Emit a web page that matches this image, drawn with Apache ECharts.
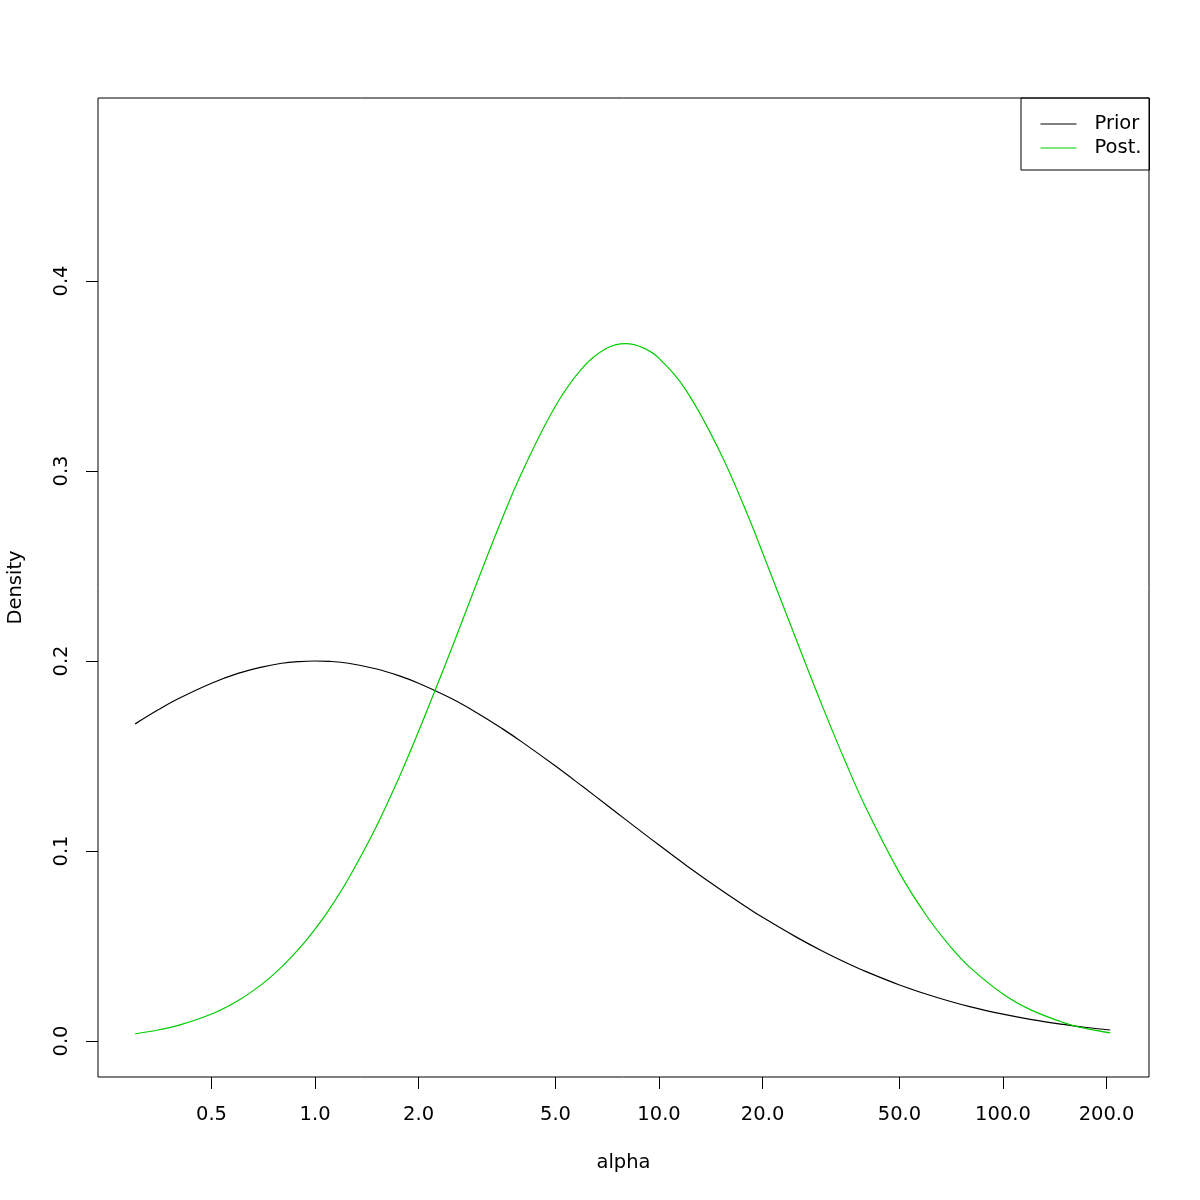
<!DOCTYPE html>
<html>
<head>
<meta charset="utf-8">
<script src="https://cdn.jsdelivr.net/npm/echarts@6/dist/echarts.min.js"></script>
<style>
html,body{margin:0;padding:0;background:#fff;}
#chart{width:1200px;height:1200px;}
</style>
</head>
<body>
<div id="chart"></div>
<script>
// alpha values (x, log scale)
const alpha = [0.3, 0.35, 0.4, 0.5, 0.6, 0.7, 0.8, 0.9, 1.0, 1.1, 1.25, 1.5, 1.75, 2, 2.5, 3, 3.5, 4, 5, 6, 7, 8, 9, 10, 12, 15, 18, 20, 25, 30, 35, 40, 50, 60, 70, 80, 100, 120, 150, 175, 205];
// prior density
const prior = [0.1669, 0.1743, 0.1801, 0.1883, 0.1936, 0.1968, 0.1988, 0.1997, 0.2000, 0.1998, 0.1988, 0.1959, 0.1923, 0.1883, 0.1801, 0.1720, 0.1644, 0.1573, 0.1447, 0.1339, 0.1246, 0.1165, 0.1094, 0.1031, 0.0924, 0.0800, 0.0704, 0.0651, 0.0548, 0.0471, 0.0412, 0.0365, 0.0295, 0.0246, 0.0209, 0.0181, 0.0141, 0.0114, 0.0087, 0.0071, 0.0058];
// posterior density
const post = [0.0038, 0.0058, 0.0082, 0.0142, 0.0215, 0.0298, 0.0390, 0.0487, 0.0589, 0.0693, 0.0854, 0.1121, 0.1382, 0.1630, 0.2070, 0.2443, 0.2750, 0.2995, 0.3342, 0.3544, 0.3643, 0.3670, 0.3648, 0.3593, 0.3423, 0.3104, 0.2779, 0.2570, 0.2117, 0.1752, 0.1460, 0.1225, 0.0885, 0.0658, 0.0501, 0.0389, 0.0247, 0.0165, 0.0097, 0.0065, 0.0043];
const xTicks = [0.5, 1, 2, 5, 10, 20, 50, 100, 200];
const yTicks = [0, 0.1, 0.2, 0.3, 0.4];
const seriesNames = ['Prior', 'Post.'];
const seriesColors = ['#000000', '#00CD00'];

const FONT = 'DejaVu Sans';
const FS = 19.5;
const chart = echarts.init(document.getElementById('chart'), null, {renderer: 'canvas'});
chart.setOption({
  animation: false,
  backgroundColor: '#ffffff',
  textStyle: {fontFamily: FONT, fontSize: FS, color: '#000'},
  grid: {left: 98, top: 98, right: 51, bottom: 123, show: true, borderColor: '#000', borderWidth: 1, backgroundColor: 'transparent', containLabel: false, outerBoundsMode: 'none'},
  legend: {
    left: 1021, top: 98,
    orient: 'vertical',
    data: seriesNames,
    borderColor: '#000', borderWidth: 1, borderRadius: 0,
    padding: [16, 8, 12, 19],
    itemWidth: 36, itemHeight: 20, itemGap: 4,
    itemStyle: {opacity: 0, borderWidth: 0},
    lineStyle: {width: 1},
    textStyle: {fontFamily: FONT, fontSize: FS, color: '#000', padding: [0, 0, 0, 13]},
    selectedMode: false
  },
  xAxis: {
    type: 'log', logBase: 10,
    min: 0.2339, max: 265.7,
    name: 'alpha', nameLocation: 'middle', nameGap: 76,
    nameTextStyle: {fontFamily: FONT, fontSize: FS, color: '#000'},
    axisLine: {show: false, onZero: false},
    splitLine: {show: false},
    minorTick: {show: false},
    axisTick: {show: true, inside: false, length: 12, customValues: xTicks, lineStyle: {color: '#000', width: 1}},
    axisLabel: {show: true, customValues: xTicks, margin: 28, color: '#000', fontFamily: FONT, fontSize: FS,
      formatter: v => Number(v).toFixed(1)}
  },
  yAxis: {
    type: 'value',
    min: -0.01895, max: 0.4963,
    name: 'Density', nameLocation: 'middle', nameGap: 72,
    nameTextStyle: {fontFamily: FONT, fontSize: FS, color: '#000'},
    axisLine: {show: false, onZero: false},
    splitLine: {show: false},
    axisTick: {show: true, inside: false, length: 12, customValues: yTicks, lineStyle: {color: '#000', width: 1}},
    axisLabel: {show: true, customValues: yTicks, rotate: 90, margin: 26, color: '#000', fontFamily: FONT, fontSize: FS,
      formatter: v => Number(v).toFixed(1)}
  },
  series: seriesNames.map((name, i) => ({
    name: name,
    type: 'line',
    data: alpha.map((a, j) => [a, i === 0 ? prior[j] : post[j]]),
    smooth: 0.4,
    symbol: 'none',
    lineStyle: {color: seriesColors[i], width: 1.2},
    itemStyle: {color: seriesColors[i]}
  }))
});
</script>
</body>
</html>
